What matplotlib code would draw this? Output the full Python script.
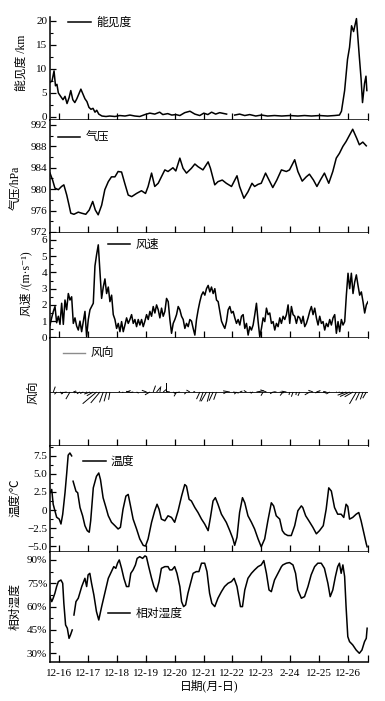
import numpy as np
import matplotlib
matplotlib.use('Agg')
import matplotlib.pyplot as plt
from matplotlib.ticker import MultipleLocator

plt.rcParams['font.family'] = ['Liberation Serif', 'Noto Sans CJK SC', 'DejaVu Sans']
plt.rcParams['axes.unicode_minus'] = True

nan = np.nan

# x axis: days since 12-16
days = [0, 1, 2, 3, 4, 5, 6, 7, 8, 9, 10]
day_labels = ['12-16', '12-17', '12-18', '12-19', '12-20', '12-21',
              '12-22', '12-23', '2-24', '12-25', '12-26']
t_start, t_end = -0.32, 10.70

# visibility (km)
vis_t = [-0.32, -0.25, -0.18, -0.13, -0.08, -0.03, 0.06, 0.13, 0.20, 0.27,
         0.34, 0.40, 0.47, 0.54, 0.61, 0.68, 0.75, 0.82, 0.89, 0.96,
         1.03, 1.10, 1.17, 1.24, 1.30, 1.37, 1.48, 1.62, 1.75, 1.93,
         2.10, 2.28, 2.45, 2.62, 2.79, 2.97, 3.14, 3.31, 3.48, 3.59,
         3.76, 3.90, 4.04, 4.18, 4.35, 4.53, 4.70, 4.87, 5.01, 5.15,
         5.28, 5.42, 5.56, 5.80, 5.94, 6.08, 6.25, 6.43, 6.60, 6.81,
         7.01, 7.22, 7.46, 7.71, 7.99, 8.27, 8.50, 8.74, 9.02, 9.30,
         9.54, 9.71, 9.78, 9.89, 9.99, 10.06, 10.13, 10.20, 10.30, 10.40,
         10.46, 10.51, 10.58, 10.63, 10.66]
vis = [7.2, 7.5, 9.6, 6.5, 6.8, 5.0, 4.2, 3.6, 4.3, 2.8,
       4.0, 5.5, 3.6, 3.0, 3.8, 4.8, 5.8, 4.8, 3.8, 3.2,
       2.0, 1.6, 1.8, 1.0, 1.4, 0.6, 0.2, 0.1, 0.2, 0.1,
       0.3, 0.2, 0.4, 0.2, 0.1, 0.5, 0.8, 0.6, 1.0, 0.5,
       0.7, 0.4, 0.5, 0.3, 0.9, 1.2, 0.6, 0.3, 0.8, 0.5,
       1.0, 0.6, 0.9, 0.6, nan, 0.4, 0.6, 0.3, 0.5, 0.2,
       0.4, 0.2, 0.3, 0.2, 0.3, 0.2, 0.3, 0.2, 0.3, 0.2,
       0.3, 0.4, 1.2, 5.5, 12.0, 14.5, 19.0, 17.8, 20.5, 12.5,
       8.0, 3.0, 7.0, 8.5, 5.5]

# pressure (hPa)
pres_t = [-0.32, -0.23, -0.15, -0.03, 0.08, 0.16, 0.26, 0.34, 0.40, 0.51,
          0.66, 0.78, 0.92, 1.04, 1.16, 1.25, 1.35, 1.47, 1.58, 1.70,
          1.81, 1.93, 2.04, 2.16, 2.27, 2.39, 2.51, 2.68, 2.85, 2.99,
          3.08, 3.20, 3.31, 3.43, 3.54, 3.66, 3.77, 3.94, 4.04, 4.18,
          4.29, 4.41, 4.58, 4.70, 4.81, 4.98, 5.16, 5.24, 5.39, 5.50,
          5.65, 5.79, 5.97, 6.16, 6.25, 6.40, 6.54, 6.68, 6.77, 6.89,
          7.00, 7.15, 7.27, 7.40, 7.54, 7.70, 7.87, 7.98, 8.16, 8.27,
          8.42, 8.56, 8.67, 8.81, 8.93, 9.05, 9.19, 9.34, 9.48, 9.60,
          9.71, 9.83, 9.94, 10.06, 10.17, 10.31, 10.40, 10.52, 10.64]
pres = [983.0, 981.7, 980.2, 979.9, 980.5, 980.8, 978.9, 977.0, 975.5, 975.3,
        975.7, 975.5, 975.3, 976.1, 977.7, 976.1, 975.2, 977.0, 979.9, 981.4,
        982.3, 982.3, 983.3, 983.2, 981.1, 978.9, 978.6, 979.2, 979.7, 979.2,
        980.5, 983.0, 980.5, 981.1, 982.3, 983.6, 983.3, 984.0, 983.4, 985.8,
        983.9, 983.0, 983.9, 984.7, 984.2, 983.6, 985.1, 983.9, 980.8, 981.4,
        981.7, 981.1, 980.5, 982.5, 980.5, 978.3, 979.5, 981.1, 980.5, 980.9,
        981.1, 983.0, 981.7, 980.3, 981.7, 983.6, 983.3, 983.6, 985.5, 983.3,
        981.5, 982.3, 982.8, 981.7, 980.5, 981.7, 983.0, 981.1, 983.3, 985.8,
        986.7, 988.0, 988.9, 990.1, 991.2, 989.5, 988.3, 988.8, 988.1]

# wind speed (m/s), evenly sampled from t_start to t_end
wind_speed = [0.76, 1.2, 1.6, 1.9, 0.9, 1.3, 0.8, 2.1, 0.8, 2.3,
              1.7, 2.7, 2.3, 2.5, 0.86, 1.2, 0.7, 0.45, 1.0, 0.35,
              0.97, 1.6, 0.04, 1.1, 1.7, 1.9, 2.1, 4.4, 5.1, 5.7,
              4.0, 2.4, 3.1, 3.6, 2.7, 3.1, 2.2, 2.6, 1.4, 1.1,
              0.55, 0.86, 0.35, 0.97, 0.35, 0.76, 1.2, 0.86, 1.1, 1.4,
              0.86, 1.1, 0.66, 1.1, 0.76, 1.1, 0.66, 1.0, 1.4, 1.1,
              1.6, 1.3, 1.9, 1.5, 2.0, 1.7, 1.2, 1.8, 1.3, 1.6,
              2.4, 2.2, 1.1, 0.25, 0.86, 1.1, 1.4, 1.9, 1.7, 1.3,
              1.1, 0.55, 0.86, 0.66, 1.1, 1.0, 0.55, 0.14, 1.1, 1.7,
              2.2, 2.6, 2.8,
              2.6, 3.0, 3.2, 2.8, 3.1, 2.7, 3.0, 2.3, 2.2, 1.6,
              1.0, 0.76, 0.55, 0.97, 1.7, 1.9, 1.5, 1.6, 1.2, 0.86,
              1.1, 0.76, 1.3, 1.4, 0.55, 0.86, 0.14, 0.66, 0.45, 0.76,
              1.4, 2.1, 0.97, 0.04, 0.55, 1.2, 0.97, 1.8, 1.4, 1.5,
              0.86, 0.97, 0.45, 0.86, 0.66, 1.2, 0.86, 1.3, 1.1, 1.4,
              2.0, 0.86, 1.9, 1.4, 1.3, 0.86, 1.3, 1.2, 0.86, 1.3,
              0.66, 0.86, 1.2, 1.6, 1.9, 1.4, 1.8, 1.2, 0.76, 1.3,
              0.86, 0.97, 0.45, 0.86, 0.66, 1.1, 0.76, 1.2, 1.4, 0.25,
              0.97, 0.35, 1.1, 0.76, 0.97, 2.6, 3.95, 3.0, 3.95, 2.7,
              3.4, 3.85, 3.2, 2.6, 2.8, 2.2, 1.5, 2.0, 2.2]

# wind direction (deg, direction wind comes from), every 2nd wind sample
wind_dir = [60, 200, 45, 300, 40, 80, 30, 250,
            70, 60, 65, 55, 70, 60, 50, 40,
            20, 15, 10,
            90, 270, 120, 60, 250, 100, 80, 300, 90, 270, 110, 60,
            200, 220, 190, 230, 180,
            100, 300, 30, 80, 270, 45, 120, 260, 90,
            25, 20, 30, 15, 25, 20,
            90, 270, 60, 100, 280, 45, 250, 90, 120, 300, 70, 260, 90, 30,
            110, 270, 60, 95, 280, 40, 100,
            15, 20, 10, 25,
            90, 270, 60, 110, 250, 80, 290, 100, 60, 270,
            65, 70, 60, 70, 65, 60,
            30, 25, 20, 30]

# temperature (deg C)
temp_t = [-0.32, -0.26, -0.21, -0.15, -0.09, 0.00, 0.06, 0.12, 0.20, 0.26,
          0.31, 0.37, 0.43, 0.45, 0.48, 0.58, 0.64, 0.72, 0.81, 0.89,
          0.97, 1.04, 1.09, 1.18, 1.29, 1.37, 1.43, 1.52, 1.62, 1.70,
          1.81, 1.93, 2.04, 2.12, 2.21, 2.31, 2.39, 2.47, 2.56, 2.68,
          2.79, 2.91, 2.99, 3.08, 3.20, 3.31, 3.39, 3.46, 3.54, 3.66,
          3.77, 3.89, 4.00, 4.12, 4.24, 4.35, 4.41, 4.50, 4.58, 4.70,
          4.81, 4.93, 5.04, 5.16, 5.24, 5.33, 5.41, 5.50, 5.62, 5.79,
          5.91, 6.02, 6.08, 6.16, 6.25, 6.35, 6.43, 6.54, 6.66, 6.77,
          6.89, 7.00, 7.12, 7.23, 7.35, 7.43, 7.52, 7.64, 7.73, 7.81,
          7.92, 8.04, 8.16, 8.27, 8.39, 8.44, 8.54, 8.65, 8.79, 8.91,
          9.02, 9.15, 9.25, 9.34, 9.43, 9.54, 9.65, 9.77, 9.86, 9.94,
          10.00, 10.06, 10.17, 10.29, 10.38, 10.46, 10.55, 10.64, 10.67]
temp = [2.39, 2.85, 0.8, -0.1, -1.0, -1.26, -1.94, -0.6, 2.39, 5.13,
        7.6, 7.9, 7.5, nan, 3.99, 2.6, 2.39, 0.34, -0.8, -2.17,
        -2.86, -3.08, -1.49, 3.07, 4.67, 5.13, 4.2, 1.7, 0.34, -0.8,
        -1.7, -2.17, -2.63, -2.4, 0.1, 1.93, 2.16, 0.57, -1.26, -2.63,
        -4.0, -4.9, -5.0, -4.0, -1.7, -0.1, 0.8, 0.1, -1.26, -1.49,
        -0.8, -1.03, -1.7, -0.1, 1.93, 3.53, 3.3, 1.48, 1.25, 0.34,
        -0.35, -1.26, -1.94, -2.86, -1.03, 1.25, 1.71, 0.8, -0.58, -1.72,
        -2.86, -4.0, -4.9, -3.77, -0.35, 1.71, 1.0, -0.8, -1.7, -2.63,
        -4.0, -5.1, -4.0, -1.49, 1.0, 0.57, -0.8, -1.26, -2.86, -3.3,
        -3.54, -3.54, -2.17, -0.1, 0.57, 0.34, -0.8, -1.49, -2.4, -3.3,
        -2.86, -2.17, 0.1, 3.07, 2.62, 0.34, -0.58, -0.58, -1.03, 0.8,
        0.5, -1.26, -1.03, -0.58, -0.35, -1.49, -3.08, -4.68, -5.1]

# relative humidity (%)
rh_t = [-0.32, -0.26, -0.21, -0.15, -0.09, -0.03, 0.06, 0.12, 0.16, 0.22,
        0.28, 0.34, 0.39, 0.45, 0.48, 0.51, 0.58, 0.66, 0.78, 0.89,
        0.95, 1.00, 1.06, 1.12, 1.20, 1.29, 1.37, 1.47, 1.58, 1.70,
        1.81, 1.89, 1.96, 2.02, 2.08, 2.16, 2.24, 2.33, 2.41, 2.48,
        2.56, 2.64, 2.70, 2.79, 2.89, 2.97, 3.02, 3.10, 3.20, 3.28,
        3.37, 3.46, 3.54, 3.66, 3.77, 3.83, 3.91, 4.00, 4.08, 4.18,
        4.24, 4.31, 4.38, 4.46, 4.55, 4.64, 4.75, 4.84, 4.93, 5.04,
        5.12, 5.21, 5.29, 5.39, 5.50, 5.62, 5.73, 5.85, 5.97, 6.06,
        6.16, 6.23, 6.28, 6.35, 6.43, 6.54, 6.66, 6.77, 6.89, 7.00,
        7.09, 7.18, 7.27, 7.35, 7.46, 7.58, 7.70, 7.75, 7.87, 7.98,
        8.10, 8.19, 8.27, 8.39, 8.50, 8.62, 8.73, 8.85, 8.96, 9.08,
        9.19, 9.31, 9.39, 9.48, 9.57, 9.65, 9.71, 9.77, 9.83, 9.89,
        9.94, 10.00, 10.06, 10.17, 10.29, 10.40, 10.49, 10.58, 10.64, 10.67]
rh = [66.4, 63.2, 65.4, 68.6, 72.9, 76.1, 77.1, 75.0, 62.1, 48.2,
      46.1, 39.6, 41.8, 45.0, nan, 54.6, 63.2, 65.4, 72.9, 78.2,
      72.9, 80.4, 81.4, 75.0, 67.5, 56.8, 51.4, 60.0, 68.6, 78.2,
      82.5, 85.7, 84.6, 87.9, 90.0, 84.6, 78.2, 72.9, 72.9, 81.4,
      83.6, 86.8, 91.0, 92.1, 91.0, 92.6, 92.1, 85.7, 78.2, 72.9,
      69.6, 76.1, 84.6, 85.7, 85.7, 83.6, 83.6, 85.7, 81.4, 72.9,
      63.2, 60.0, 61.1, 68.6, 75.0, 81.4, 82.5, 82.5, 87.9, 87.9,
      82.5, 68.6, 62.1, 60.0, 65.4, 69.6, 72.9, 75.0, 76.1, 78.2,
      72.9, 65.4, 60.0, 60.0, 70.7, 78.2, 81.4, 83.6, 85.7, 86.8,
      89.6, 81.4, 70.7, 69.6, 77.1, 81.4, 85.7, 86.8, 87.9, 88.3,
      86.8, 81.4, 70.7, 65.4, 66.4, 72.9, 80.4, 85.7, 87.9, 87.9,
      84.6, 75.0, 66.4, 70.7, 79.3, 85.7, 87.9, 81.4, 86.8, 79.3,
      60.0, 40.7, 37.5, 35.4, 32.1, 30.0, 32.1, 37.5, 39.6, 46.1]

wind_t = np.linspace(t_start, t_end, len(wind_speed))
dir_t = wind_t[::2]
dir_spd = np.array(wind_speed[::2])
rad = np.deg2rad(wind_dir)
u = -dir_spd * np.sin(rad)
v = -dir_spd * np.cos(rad)

W, H = 385, 701
fig = plt.figure(figsize=(W / 100, H / 100), dpi=100)
left, right = 50, 368
bounds = [(17, 120), (120, 233), (233, 338), (338, 446), (446, 552), (552, 662)]
axes = []
for top, bot in bounds:
    ax = fig.add_axes([left / W, 1 - bot / H, (right - left) / W, (bot - top) / H])
    axes.append(ax)

lw = 1.1
ax1, ax2, ax3, ax4, ax5, ax6 = axes
ax1.plot(vis_t, vis, color='k', lw=lw, label='能见度')
ax2.plot(pres_t, pres, color='k', lw=lw, label='气压')
ax3.plot(wind_t, wind_speed, color='k', lw=lw, label='风速')
ax4.plot([], [], color='#8c8c8c', lw=1.0, label='风向')
ax4.axhline(0, color='k', lw=0.6)
ax4.quiver(dir_t, np.zeros(len(dir_t)), u, v, angles='uv', scale_units='inches',
           scale=28, headwidth=0, headlength=0, headaxislength=0,
           width=0.003, color='k', pivot='tail')
ax5.plot(temp_t, temp, color='k', lw=lw, label='温度')
ax6.plot(rh_t, rh, color='k', lw=lw, label='相对湿度')

ax1.set_ylim(-0.63, 20.83)
ax1.set_yticks([0, 5, 10, 15, 20])
ax1.yaxis.set_minor_locator(MultipleLocator(2.5))
ax2.set_ylim(971.8, 992.93)
ax2.set_yticks([972, 976, 980, 984, 988, 992])
ax2.yaxis.set_minor_locator(MultipleLocator(2))
ax3.set_ylim(-0.04, 6.43)
ax3.set_yticks([0, 1, 2, 3, 4, 5, 6])
ax3.yaxis.set_minor_locator(MultipleLocator(0.5))
ax4.set_ylim(-1, 1)
ax4.set_yticks([])
ax5.set_ylim(-5.82, 8.87)
ax5.set_yticks([-5, -2.5, 0, 2.5, 5, 7.5], ['\u22125.0', '\u22122.5', '0', '2.5', '5.0', '7.5'])
ax5.yaxis.set_minor_locator(MultipleLocator(1.25))
ax6.set_ylim(24.4, 95.1)
ax6.set_yticks([30, 45, 60, 75, 90], ['30%', '45%', '60%', '75%', '90%'])
ax6.yaxis.set_minor_locator(MultipleLocator(7.5))

ylabels = ['能见度 /km', '气压/hPa', '风速 /(m·s⁻¹)', '风向', '温度/℃', '相对湿度']
label_x = [-0.069, -0.088, -0.057, -0.031, -0.091, -0.091]
label_y = [0.56, 0.40, 0.52, 0.5, 0.51, 0.5]
leg_pos = [(0.057, 0.94), (0.025, 0.84), (0.182, 0.886), (0.04, 0.85), (0.104, 0.85), (0.182, 0.436)]

for i, ax in enumerate(axes):
    ax.set_xlim(t_start, t_end)
    ax.set_xticks(days + [t_end])
    ax.tick_params(axis='x', direction='in', length=5, width=0.9, labelbottom=False)
    ax.tick_params(axis='y', which='major', direction='in', length=4, width=0.9,
                   labelsize=8, pad=2)
    ax.tick_params(axis='y', which='minor', direction='in', length=2.5, width=0.8)
    for s in ['top', 'right']:
        ax.spines[s].set_visible(False)
    for s in ['left', 'bottom']:
        ax.spines[s].set_linewidth(1.1)
    ax.set_ylabel(ylabels[i], fontsize=8.5)
    ax.yaxis.set_label_coords(label_x[i], label_y[i])
    ax.legend(loc='center left', bbox_to_anchor=leg_pos[i], frameon=False,
              borderaxespad=0, borderpad=0, handlelength=1.9, handletextpad=0.45,
              fontsize=8.5)

ax6.set_xticks(days + [t_end], day_labels + [''])
ax6.tick_params(axis='x', labelbottom=True, labelsize=8, pad=5)
ax6.set_xlabel('日期(月-日)', fontsize=8.5, labelpad=1)

fig.savefig('out.png', dpi=100)
